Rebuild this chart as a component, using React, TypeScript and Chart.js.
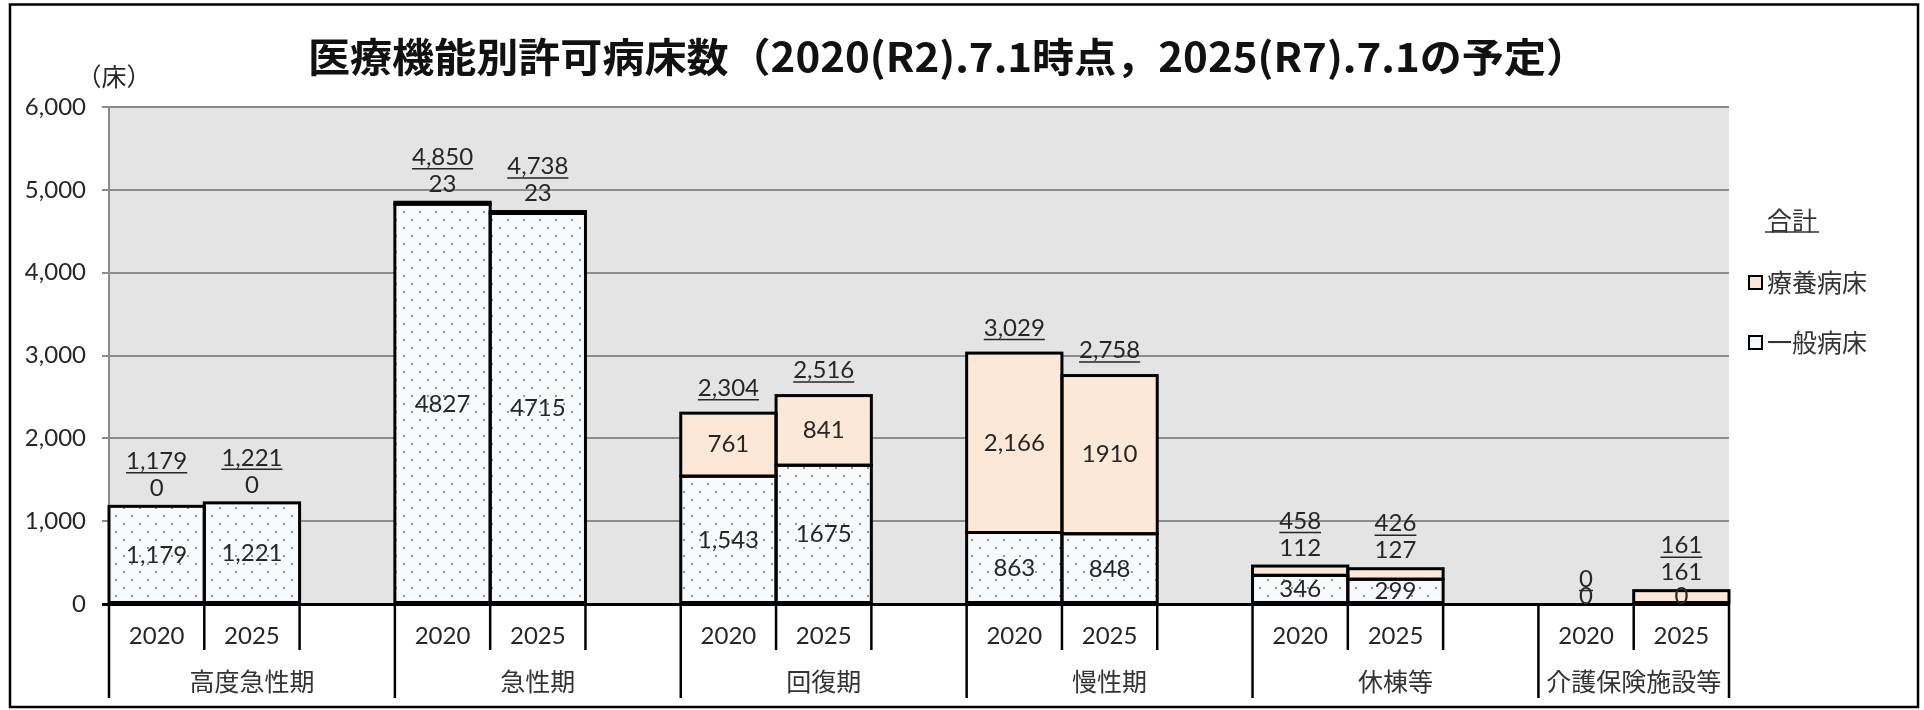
import React, { useEffect, useRef } from 'react';
import { Chart, registerables } from 'chart.js';

Chart.register(...registerables);

// ---------------- data ----------------
const TITLE = '医療機能別許可病床数（2020(R2).7.1時点，2025(R7).7.1の予定）';
const Y_UNIT = '（床）';
const GROUPS = ['高度急性期', '急性期', '回復期', '慢性期', '休棟等', '介護保険施設等'];
const YEARS = ['2020', '2025'];
// values in order: group0-2020, group0-2025, group1-2020, ...
const GENERAL = [1179, 1221, 4827, 4715, 1543, 1675, 863, 848, 346, 299, 0, 0];
const RYOYO = [0, 0, 23, 23, 761, 841, 2166, 1910, 112, 127, 0, 161];
const TOTAL = [1179, 1221, 4850, 4738, 2304, 2516, 3029, 2758, 458, 426, 0, 161];
const GENERAL_LABELS = ['1,179', '1,221', '4827', '4715', '1,543', '1675', '863', '848', '346', '299', '0', '0'];
const RYOYO_LABELS: (string | null)[] = ['0', '0', '23', '23', '761', '841', '2,166', '1910', '112', '127', null, '161'];
const TOTAL_LABELS = ['1,179', '1,221', '4,850', '4,738', '2,304', '2,516', '3,029', '2,758', '458', '426', '0', '161'];
const Y_TICKS = [0, 1000, 2000, 3000, 4000, 5000, 6000];
const LEGEND_TOTAL = '合計';
const SERIES_NAMES = ['一般病床', '療養病床'];

// ---------------- derived slot layout (2 bars + gap per group) ----------------
const X_LABELS: string[] = [];
const slotOf = (i: number) => 3 * Math.floor(i / 2) + (i % 2);
GROUPS.forEach((_, g) => {
  YEARS.forEach((y) => X_LABELS.push(y));
  if (g < GROUPS.length - 1) X_LABELS.push('');
});
const toSlots = (arr: number[]) => {
  const out: (number | null)[] = X_LABELS.map(() => null);
  arr.forEach((v, i) => {
    out[slotOf(i)] = v === 0 ? null : v;
  });
  return out;
};

const TEXT = '#262626';
const NUM_FONT = 'Lato';
const JP_FONT = '"Noto Sans CJK JP"';
const PEACH = '#fde7d6';
const GRID = '#8c8c8c';

function makePattern(): CanvasPattern | string {
  const c = document.createElement('canvas');
  c.width = 16;
  c.height = 16;
  const g = c.getContext('2d');
  if (!g) return '#f6fafd';
  g.fillStyle = '#f6fafd';
  g.fillRect(0, 0, 16, 16);
  g.fillStyle = '#959595';
  g.fillRect(3, 3, 2, 2);
  g.fillRect(11, 11, 2, 2);
  const p = g.createPattern(c, 'repeat');
  return p || '#f6fafd';
}

const decorPlugin = {
  id: 'decor',
  beforeDraw(chart: any) {
    const { ctx, chartArea: a, width, height } = chart;
    ctx.save();
    ctx.fillStyle = '#ffffff';
    ctx.fillRect(0, 0, width, height);
    ctx.fillStyle = '#e4e4e4';
    ctx.fillRect(a.left, a.top, a.right - a.left, a.bottom - a.top);
    ctx.restore();
  },
  afterDatasetsDraw(chart: any) {
    const { ctx } = chart;
    const xs = chart.scales.x;
    const ys = chart.scales.y;
    ctx.save();
    // bar outlines
    ctx.strokeStyle = '#000';
    ctx.lineWidth = 3;
    chart.data.datasets.forEach((_: any, di: number) => {
      const meta = chart.getDatasetMeta(di);
      meta.data.forEach((el: any, idx: number) => {
        const v = chart.data.datasets[di].data[idx];
        if (v === null || v === undefined) return;
        const p = el.getProps(['x', 'y', 'base', 'width'], true);
        const top = Math.min(p.y, p.base);
        const h = Math.abs(p.base - p.y);
        ctx.strokeRect(p.x - p.width / 2, top, p.width, h);
      });
    });
    // value labels
    ctx.fillStyle = TEXT;
    ctx.textAlign = 'center';
    ctx.textBaseline = 'middle';
    ctx.font = `24px ${NUM_FONT}`;
    const base = ys.getPixelForValue(0);
    GENERAL.forEach((gv, i) => {
      const x = xs.getPixelForValue(slotOf(i));
      const genTop = ys.getPixelForValue(gv);
      const top = ys.getPixelForValue(TOTAL[i]);
      const gy = base - genTop >= 20 ? (base + genTop) / 2 : base - 8;
      ctx.fillText(GENERAL_LABELS[i], x, gy);
      let above = false;
      const rl = RYOYO_LABELS[i];
      if (rl !== null) {
        const h = genTop - top;
        let ry;
        if (h >= 30) ry = (genTop + top) / 2;
        else {
          ry = top - 18;
          above = true;
        }
        ctx.fillText(rl, x, ry);
      }
      const ty = top - (above ? 45 : 25);
      const t = TOTAL_LABELS[i];
      ctx.fillText(t, x, ty);
      const w = ctx.measureText(t).width;
      ctx.lineWidth = 1.5;
      ctx.strokeStyle = TEXT;
      ctx.beginPath();
      ctx.moveTo(x - w / 2, ty + 11.5);
      ctx.lineTo(x + w / 2, ty + 11.5);
      ctx.stroke();
    });
    ctx.restore();
  },
  afterDraw(chart: any) {
    const { ctx, chartArea: a } = chart;
    const xs = chart.scales.x;
    const slotW = (a.right - a.left) / X_LABELS.length;
    const yb = a.bottom;
    ctx.save();
    // category separators
    ctx.strokeStyle = '#000';
    ctx.lineWidth = 2.5;
    const vline = (x: number, y2: number) => {
      ctx.beginPath();
      ctx.moveTo(x, yb);
      ctx.lineTo(x, y2);
      ctx.stroke();
    };
    GROUPS.forEach((name, g) => {
      const s0 = 3 * g;
      const left = xs.getPixelForValue(s0) - slotW / 2;
      const mid = xs.getPixelForValue(s0) + slotW / 2;
      const right = xs.getPixelForValue(s0 + 1) + slotW / 2;
      vline(left, 698);
      vline(mid, 650);
      vline(right, g === GROUPS.length - 1 ? 698 : 650);
      const gEnd = Math.min(left + 3 * slotW, a.right);
      ctx.fillStyle = '#333';
      ctx.font = `25px ${JP_FONT}`;
      ctx.textAlign = 'center';
      ctx.textBaseline = 'middle';
      ctx.fillText(name, (left + gEnd) / 2, 681);
    });
    // title
    ctx.fillStyle = '#111';
    ctx.font = `bold 40px ${JP_FONT}`;
    ctx.textAlign = 'center';
    ctx.textBaseline = 'middle';
    const tw = ctx.measureText(TITLE).width;
    const sx = Math.min(1.2, 1280 / tw);
    ctx.save();
    ctx.translate(948, 57);
    ctx.scale(sx, 1);
    ctx.fillText(TITLE, 0, 0);
    ctx.restore();
    // unit
    ctx.fillStyle = TEXT;
    ctx.font = `25px ${JP_FONT}`;
    ctx.fillText(Y_UNIT, 114, 76);
    // legend
    ctx.font = `25px ${JP_FONT}`;
    ctx.textAlign = 'left';
    ctx.fillStyle = '#333';
    ctx.fillText(LEGEND_TOTAL, 1767, 220);
    const lw = ctx.measureText(LEGEND_TOTAL).width;
    ctx.strokeStyle = '#333';
    ctx.lineWidth = 1.5;
    ctx.beginPath();
    ctx.moveTo(1765, 232);
    ctx.lineTo(1769 + lw, 232);
    ctx.stroke();
    const items = [
      { name: SERIES_NAMES[1], color: PEACH, y: 282 },
      { name: SERIES_NAMES[0], color: '#f6fafd', y: 342 },
    ];
    items.forEach((it) => {
      ctx.fillStyle = it.color;
      ctx.fillRect(1749, it.y - 6, 13, 13);
      ctx.strokeStyle = '#000';
      ctx.lineWidth = 2;
      ctx.strokeRect(1749, it.y - 6, 13, 13);
      ctx.fillStyle = '#333';
      ctx.fillText(it.name, 1767, it.y);
    });
    // outer frame
    ctx.strokeStyle = '#000';
    ctx.lineWidth = 2.5;
    ctx.strokeRect(10, 4.5, 1908, 702.5);
    ctx.restore();
  },
};

export default function App() {
  const ref = useRef<HTMLCanvasElement | null>(null);
  useEffect(() => {
    document.body.style.margin = '0';
    const canvas = ref.current;
    if (!canvas) return;
    const pattern = makePattern();
    const chart = new Chart(canvas, {
      type: 'bar',
      data: {
        labels: X_LABELS,
        datasets: [
          {
            label: SERIES_NAMES[0],
            data: toSlots(GENERAL),
            backgroundColor: pattern as any,
            borderWidth: 0,
            barPercentage: 1,
            categoryPercentage: 1,
          },
          {
            label: SERIES_NAMES[1],
            data: toSlots(RYOYO),
            backgroundColor: PEACH,
            borderWidth: 0,
            barPercentage: 1,
            categoryPercentage: 1,
          },
        ],
      },
      options: {
        responsive: false,
        maintainAspectRatio: false,
        animation: false,
        layout: { padding: { left: 0, right: 195, top: 107, bottom: 0 } },
        plugins: {
          legend: { display: false },
          tooltip: { enabled: false },
          title: { display: false },
        },
        scales: {
          x: {
            type: 'category',
            stacked: true,
            offset: true,
            grid: { display: false, drawTicks: false },
            border: { display: false },
            ticks: {
              autoSkip: false,
              maxRotation: 0,
              minRotation: 0,
              padding: 18,
              color: TEXT,
              font: { family: NUM_FONT, size: 24 },
            },
            afterFit: (s: any) => {
              s.height = 106;
            },
          },
          y: {
            stacked: true,
            min: 0,
            max: 6000,
            afterBuildTicks: (s: any) => {
              s.ticks = Y_TICKS.map((v) => ({ value: v }));
            },
            ticks: {
              padding: 16,
              color: TEXT,
              font: { family: NUM_FONT, size: 24 },
              callback: (v: any) => Number(v).toLocaleString('en-US'),
            },
            grid: {
              color: (c: any) => (c.tick && c.tick.value === 0 ? '#000' : GRID),
              tickColor: (c: any) => (c.tick && c.tick.value === 0 ? '#000' : GRID),
              lineWidth: (c: any) => (c.tick && c.tick.value === 0 ? 3 : 2),
              tickLength: 7,
            },
            border: { display: true, color: GRID, width: 2 },
            afterFit: (s: any) => {
              s.width = 109;
            },
          },
        },
      },
      plugins: [decorPlugin],
    } as any);
    return () => chart.destroy();
  }, []);
  return (
    <div style={{ width: 1924, height: 710, overflow: 'hidden' }}>
      <canvas ref={ref} width={1924} height={710} style={{ display: 'block' }} />
    </div>
  );
}
